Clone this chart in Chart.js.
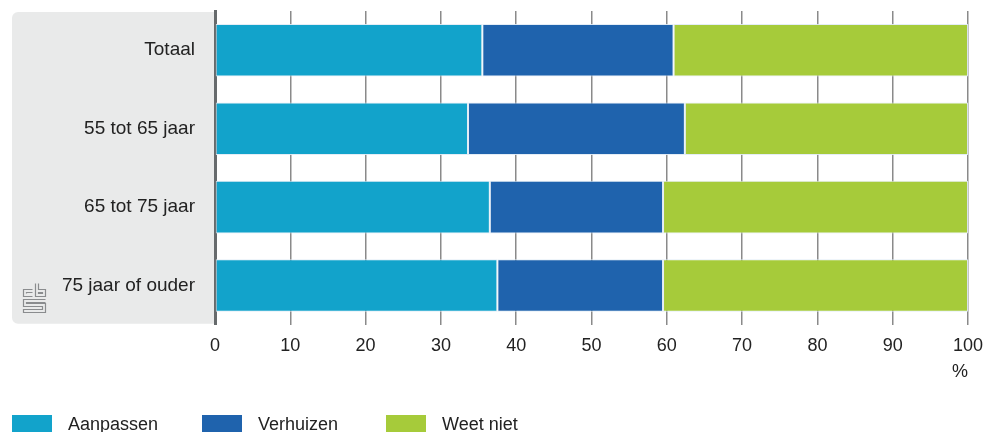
<!DOCTYPE html>
<html><head><meta charset="utf-8">
<script src="https://cdn.jsdelivr.net/npm/chart.js@4"></script>
<style>
html,body{margin:0;padding:0;background:#fff;overflow:hidden}
#wrap{position:relative;width:992px;height:432px}
#legend{position:absolute;left:12px;top:415px;display:flex;font-family:"Liberation Sans",sans-serif;font-size:18px;color:#222}
.li{display:flex;align-items:flex-start}
.sw{width:40px;height:20px;margin-right:16px}
</style></head>
<body><div id="wrap"><canvas id="c" width="992" height="432"></canvas><div id="legend"></div></div>
<script>
const categories = ["Totaal", "55 tot 65 jaar", "65 tot 75 jaar", "75 jaar of ouder"];
const aanpassen = [35.5, 33.6, 36.5, 37.5];
const verhuizen = [25.4, 28.8, 23.0, 22.0];
const weetNiet = [39.1, 37.6, 40.5, 40.5];
const seriesNames = ["Aanpassen", "Verhuizen", "Weet niet"];
const colors = ["#12a3cb", "#1f63ad", "#a6cb3a"];
const FONT = '"Liberation Sans",sans-serif';

const panelPlugin = {
  id: 'panel',
  beforeDraw(chart) {
    const {ctx, chartArea} = chart;
    const x0 = 12, x1 = chartArea.left, y0 = chartArea.top + 1, y1 = chartArea.bottom - 1, r = 6;
    ctx.save();
    ctx.fillStyle = '#e9eaea';
    ctx.beginPath();
    ctx.moveTo(x0 + r, y0);
    ctx.lineTo(x1, y0);
    ctx.lineTo(x1, y1);
    ctx.lineTo(x0 + r, y1);
    ctx.arcTo(x0, y1, x0, y1 - r, r);
    ctx.lineTo(x0, y0 + r);
    ctx.arcTo(x0, y0, x0 + r, y0, r);
    ctx.closePath();
    ctx.fill();
    // CBS logo
    ctx.strokeStyle = '#8a8c8e';
    ctx.lineWidth = 1.2;
    const lx = 23.5, ly = 283.5;
    ctx.beginPath();
    ctx.moveTo(lx + 9, ly + 6); ctx.lineTo(lx, ly + 6); ctx.lineTo(lx, ly + 13); ctx.lineTo(lx + 9, ly + 13);
    ctx.moveTo(lx + 9, ly + 9); ctx.lineTo(lx + 3, ly + 9); ctx.lineTo(lx + 3, ly + 10);
    ctx.moveTo(lx + 12, ly); ctx.lineTo(lx + 12, ly + 13); ctx.lineTo(lx + 22, ly + 13); ctx.lineTo(lx + 22, ly + 6); ctx.lineTo(lx + 15, ly + 6); ctx.lineTo(lx + 15, ly);
    ctx.rect(lx + 15, ly + 9, 4, 1);
    ctx.moveTo(lx + 22, ly + 16); ctx.lineTo(lx, ly + 16); ctx.lineTo(lx, ly + 23); ctx.lineTo(lx + 19, ly + 23); ctx.lineTo(lx + 19, ly + 26); ctx.lineTo(lx, ly + 26); ctx.lineTo(lx, ly + 29); ctx.lineTo(lx + 22, ly + 29); ctx.lineTo(lx + 22, ly + 20); ctx.lineTo(lx + 3, ly + 20); ctx.lineTo(lx + 3, ly + 19); ctx.lineTo(lx + 22, ly + 19);
    ctx.stroke();
    ctx.restore();
  }
};

const values = [aanpassen, verhuizen, weetNiet];
new Chart(document.getElementById('c'), {
  type: 'bar',
  data: {
    labels: categories,
    datasets: seriesNames.map((n, i) => ({
      label: n, data: values[i], backgroundColor: colors[i],
      borderColor: 'rgba(225,235,245,0.9)', borderWidth: 1, borderSkipped: false,
      categoryPercentage: 1, barPercentage: 0.67
    }))
  },
  options: {
    indexAxis: 'y', responsive: false, animation: false,
    layout: {padding: {left: 12, right: 24, top: 11, bottom: 45}},
    plugins: {legend: {display: false}, tooltip: {enabled: false}},
    scales: {
      x: {
        stacked: true, min: 0, max: 100,
        afterFit(s) { s.paddingLeft = 0; s.paddingRight = 0; },
        ticks: {stepSize: 10, color: '#222', font: {family: FONT, size: 18}, padding: 10},
        grid: {color: '#8a8a8a', lineWidth: 1.5, drawTicks: false},
        border: {display: false},
        title: {display: true, text: '%', align: 'end', color: '#222', font: {family: FONT, size: 18}, padding: {top: -5}}
      },
      y: {
        stacked: true,
        afterFit(s) { s.width = 203; s.paddingTop = 0; s.paddingBottom = 0; },
        ticks: {color: '#222', font: {family: FONT, size: 19}, padding: 12},
        grid: {display: false},
        border: {color: '#666a6c', width: 3}
      }
    }
  },
  plugins: [panelPlugin]
});

const lg = document.getElementById('legend');
const widths = ['190px', '184px', 'auto'];
seriesNames.forEach((n, i) => {
  const d = document.createElement('div'); d.className = 'li';
  d.style.width = widths[i];
  d.innerHTML = '<div class="sw" style="background:' + colors[i] + '"></div><span style="line-height:20px;margin-top:-1px">' + n + '</span>';
  lg.appendChild(d);
});
</script></body></html>
